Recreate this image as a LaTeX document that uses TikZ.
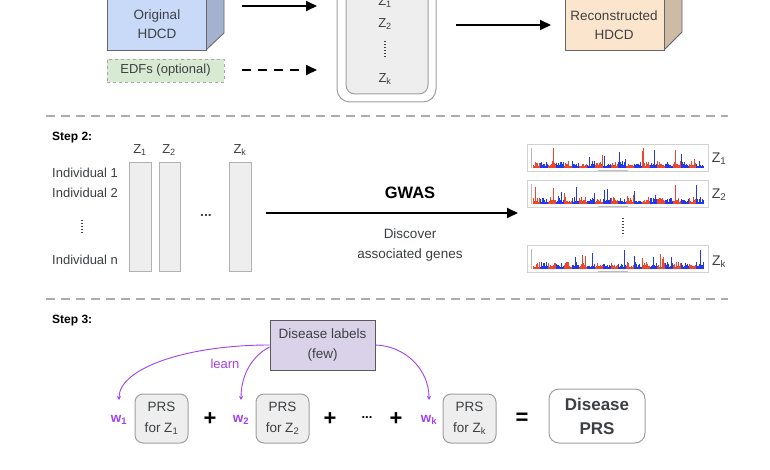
\documentclass[tikz,border=0pt]{standalone}
\usepackage{fontspec}
\setmainfont{Liberation Sans}
\usetikzlibrary{arrows.meta,calc}
\definecolor{txt}{RGB}{60,64,67}
\definecolor{purp}{RGB}{161,66,244}
\definecolor{lav}{RGB}{217,210,233}
\definecolor{bfront}{RGB}{201,218,248}
\definecolor{bside}{RGB}{164,177,207}
\definecolor{pfront}{RGB}{252,229,205}
\definecolor{pside}{RGB}{205,187,166}
\definecolor{edf}{RGB}{217,234,211}
\definecolor{mred}{RGB}{236,70,45}
\definecolor{mblue}{RGB}{35,55,235}
\newcommand\manhplot[3]{%
  \node[draw=gray!35, line width=0.5pt, minimum width=181pt, minimum height=27pt, anchor=north west] (#3) at (527,#1) {};
  \draw[gray!55, line width=0.4pt] (531,#1+4) -- (531,#1+24);
  \pgfmathsetseed{#2}%
  \foreach \ci in {0,...,21}{%
    \ifodd\ci \def\mcol{mblue}\else\def\mcol{mred}\fi
    \foreach \j in {0,...,9}{%
      \pgfmathsetmacro\hh{rnd>0.93 ? 7+rnd*14 : (rnd>0.6 ? 3+rnd*4 : 1.5+rnd*2.5)}%
      \draw[\mcol, line width=0.8pt] (533+\ci*7.8+\j*0.75, #1+24) -- ++(0,-\hh);
    }%
  }%
  \draw[gray!50, line width=0.6pt] (598,#1+26) -- (628,#1+26);
}
\begin{document}
\begin{tikzpicture}[x=1pt,y=-1pt,
  every node/.style={text=txt, font=\fontsize{13}{16}\selectfont, inner sep=0pt, align=center},
  arr/.style={line width=1.8pt, draw=black, -{Triangle[length=11pt,width=10pt]}},
  darr/.style={line width=1.8pt, draw=black, dash pattern=on 9pt off 7pt, -{Triangle[length=11pt,width=10pt]}},
  sep/.style={draw=gray!65, line width=2.4pt, dash pattern=on 9pt off 6pt},
  colbox/.style={draw=gray!60, fill=gray!13, line width=0.8pt},
  prs/.style={draw=gray!75, fill=gray!13, rounded corners=8pt, line width=1pt, minimum width=53pt, minimum height=49pt, font=\fontsize{13.5}{21}\selectfont},
  wlab/.style={text=purp, font=\fontsize{13.5}{15}\selectfont\bfseries},
  parr/.style={draw=purp, line width=0.9pt, -{Stealth[length=4pt,width=4pt]}},
  op/.style={text=black, font=\fontsize{22}{22}\selectfont\bfseries},
  vd/.style={draw=txt, line width=1.4pt, dash pattern=on 1.2pt off 1.8pt},
  steplab/.style={anchor=west, font=\fontsize{12}{14}\selectfont\bfseries, text=black}
]
\useasboundingbox (0,0) rectangle (770,470);
\clip (0,0) rectangle (770,470);
\fill[white] (0,0) rectangle (770,470);

% ---------- Step 1 ----------
\filldraw[fill=bside, draw=gray!80!black, line width=0.8pt] (206,50) -- (224,33) -- (224,-40) -- (206,-30) -- cycle;
\filldraw[fill=bfront, draw=gray!80!black, line width=0.8pt] (107,-30) rectangle (206,50);
\node[font=\fontsize{13.5}{19}\selectfont] (orig) at (157,24) {Original\\HDCD};

\node[draw=gray!70, dashed, fill=edf, line width=0.8pt, minimum width=117pt, minimum height=23pt] (edfs) at (165.5,70.5) {EDFs (optional)};

\coordinate (a1s) at (242,6);
\coordinate (a1e) at (317,6);
\coordinate (a2s) at (242,70);
\coordinate (a2e) at (317,70);
\draw[arr] (a1s) -- (a1e);
\draw[darr] (a2s) -- (a2e);

\draw[draw=gray!75, fill=white, line width=1pt, rounded corners=13pt] (337,-30) rectangle (436,102);
\draw[draw=gray!75, fill=gray!13, line width=1pt, rounded corners=9pt] (346,-30) rectangle (428,94);
\node (z1a) at (385,2) {Z\textsubscript{1}};
\node (z2a) at (385,24) {Z\textsubscript{2}};
\draw[vd] (385,41) -- (385,57);
\node (zka) at (385,79) {Z\textsubscript{k}};

\coordinate (a3s) at (456,25);
\coordinate (a3e) at (551,25);
\draw[arr] (a3s) -- (a3e);

\filldraw[fill=pside, draw=gray!80!black, line width=0.8pt] (664,50) -- (682,32) -- (682,-40) -- (664,-30) -- cycle;
\filldraw[fill=pfront, draw=gray!80!black, line width=0.8pt] (565,-30) rectangle (664,50);
\node[font=\fontsize{13.5}{19}\selectfont] (recon) at (614,25) {Reconstructed\\HDCD};

% ---------- separators ----------
\coordinate (s1l) at (46,116);
\coordinate (s1r) at (728,116);
\coordinate (s2l) at (46,299);
\coordinate (s2r) at (728,299);
\draw[sep] (s1l) -- (s1r);
\draw[sep] (s2l) -- (s2r);

% ---------- Step 2 ----------
\node[steplab] (step2) at (52,138) {Step 2:};
\node (zc1) at (140,150) {Z\textsubscript{1}};
\node (zc2) at (169,150) {Z\textsubscript{2}};
\node (zck) at (240,150) {Z\textsubscript{k}};
\draw[colbox] (129,162) rectangle (151,271);
\draw[colbox] (159,162) rectangle (180,271);
\draw[colbox] (229,162) rectangle (251,271);
\node[anchor=west] (ind1) at (52,173) {Individual 1};
\node[anchor=west] (ind2) at (52,193) {Individual 2};
\draw[vd] (82,220) -- (82,234);
\node[anchor=west] (indn) at (52,260) {Individual n};
\node[font=\fontsize{14}{16}\selectfont\bfseries] (cdots) at (206,215) {...};

\coordinate (gs) at (266,213);
\coordinate (ge) at (518,213);
\draw[arr] (gs) -- (ge);
\node[font=\fontsize{16.5}{18}\selectfont\bfseries, text=black] (gwas) at (410,193) {GWAS};
\node[font=\fontsize{13.5}{20}\selectfont] (disc) at (410,245) {Discover\\associated genes};

\manhplot{144}{11}{mh1}
\manhplot{180}{23}{mh2}
\manhplot{245}{5}{mhk}
\node[font=\fontsize{14}{16}\selectfont] (zm1) at (719,159) {Z\textsubscript{1}};
\node[font=\fontsize{14}{16}\selectfont] (zm2) at (719,195) {Z\textsubscript{2}};
\draw[vd] (623,218) -- (623,236);
\node[font=\fontsize{14}{16}\selectfont] (zmk) at (719,262) {Z\textsubscript{k}};

% ---------- Step 3 ----------
\node[steplab] (step3) at (52,321) {Step 3:};
\node[draw=gray!70!black, fill=lav, line width=0.9pt, minimum width=105pt, minimum height=50pt, font=\fontsize{13.5}{20}\selectfont] (dl) at (322.5,345) {Disease labels\\(few)};

\node[wlab] (w1) at (119,420) {w\textsubscript{1}};
\node[prs] (p1) at (161.5,418.5) {PRS\\for Z\textsubscript{1}};
\node[op] (plus1) at (210,419) {+};
\node[wlab] (w2) at (241,420) {w\textsubscript{2}};
\node[prs] (p2) at (282.5,418.5) {PRS\\for Z\textsubscript{2}};
\node[op] (plus2) at (330,419) {+};
\node[font=\fontsize{13}{15}\selectfont\bfseries, text=black] (dots3) at (367,418) {...};
\node[op] (plus3) at (396,419) {+};
\node[wlab] (wk) at (429,420) {w\textsubscript{k}};
\node[prs] (pk) at (469.5,418.5) {PRS\\for Z\textsubscript{k}};
\node[op] (eq) at (522,419) {=};
\node[draw=gray!75, fill=white, line width=1pt, rounded corners=10pt, minimum width=96pt, minimum height=54pt, font=\fontsize{17}{24}\selectfont\bfseries] (dprs) at (597,416) {Disease\\PRS};

\coordinate (w1t) at (119,400);
\coordinate (w2t) at (241,400);
\coordinate (wkt) at (429,400);
\draw[parr] ([yshift=0pt]dl.west) .. controls (187,345) and (119,368) .. (w1t);
\draw[parr] ([yshift=-2pt]dl.west) .. controls (252,356) and (241,375) .. (w2t);
\draw[parr] (dl.east) .. controls (406,346) and (429,370) .. (wkt);
\node[text=purp] (learn) at (225,364) {learn};
\end{tikzpicture}
\end{document}
